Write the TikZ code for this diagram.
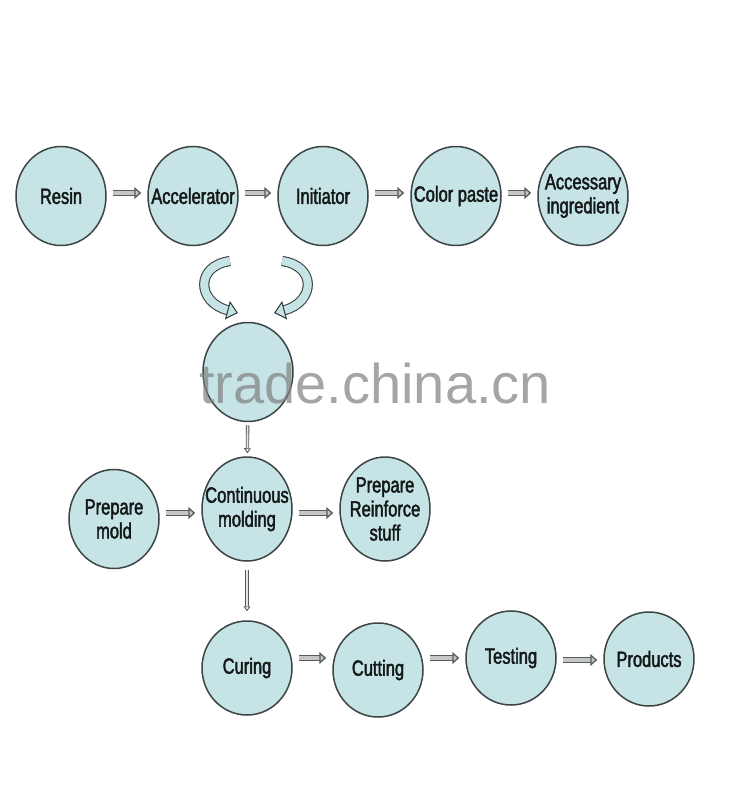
\documentclass[tikz,border=0pt]{standalone}
\usepackage{fontspec}
\setmainfont{Liberation Sans}[FakeStretch=0.75, FakeBold=2]
\newfontfamily\wmfont{Liberation Sans}
\usetikzlibrary{arrows.meta, shapes.geometric}
\definecolor{bub}{RGB}{198,228,229}
\definecolor{rim}{RGB}{60,68,68}
\definecolor{ink}{RGB}{20,24,24}
\definecolor{arr}{RGB}{85,92,92}
\tikzset{
  proc/.style={ellipse, draw=rim, line width=1.5pt, fill=bub, minimum width=90pt, minimum height=99pt, inner sep=0pt},
  txt/.style={align=center, font=\fontsize{22}{24}\selectfont, text=ink, inner sep=0pt},
  flow/.style={draw=arr, line width=1.3pt, double=gray!45, double distance=3.5pt, shorten <=6pt, shorten >=6pt,
    -{Triangle[open, length=7pt, width=12pt, line width=1.3pt, fill=gray!45]}},
  thinarrow/.style={draw=arr, line width=0.9pt, double=gray!20, double distance=1.6pt,
    -{Triangle[open, length=5pt, width=7pt, line width=0.9pt]}},
  curlarrow/.style={draw=rim, line width=1.1pt, double=bub, double distance=8pt,
    -{Triangle[open, length=11pt, width=19pt, line width=1.1pt, fill=bub]}},
}
\begin{document}
\begin{tikzpicture}[x=1pt,y=-1pt]
\useasboundingbox[fill=white] (0,0) rectangle (750,800);
% row 1
\node[proc, label={[txt]center:Resin}] (resin) at (61,196) {};
\node[proc, label={[txt]center:Accelerator}] (accel) at (193,196) {};
\node[proc, label={[txt]center:Initiator}] (init)  at (323,196) {};
\node[proc, label={[txt]center:Color paste}] (color) at (456,196) {};
\node[proc, label={[txt]center:Accessary\\ingredient}] (acces) at (583,196) {};
\coordinate (y1) at (0,193);
\draw[flow] (resin.east |- y1) -- (accel.west |- y1);
\draw[flow] (accel.east |- y1) -- (init.west |- y1);
\draw[flow] (init.east |- y1) -- (color.west |- y1);
\draw[flow] (color.east |- y1) -- (acces.west |- y1);
% curved arrows
\coordinate (l1) at (230,261);
\coordinate (l2) at (238,313);
\coordinate (r1) at (282,261);
\coordinate (r2) at (274,313);
\draw[curlarrow] (l1) .. controls (195,266) and (197,302) .. (l2);
\draw[curlarrow] (r1) .. controls (317,266) and (315,302) .. (r2);
% middle circle (label hidden)
\node[proc] (mix) at (248,372) {};
% row 3
\node[proc, label={[txt]center:Prepare\\mold}] (mold) at (114,519) {};
\node[proc, minimum height=104pt, label={[txt]center:Continuous\\molding}] (cont) at (247,509) {};
\node[proc, minimum height=104pt, label={[txt]center:Prepare\\Reinforce\\stuff}] (reinf) at (385,509) {};
\coordinate (y3) at (0,513);
\draw[thinarrow, shorten <=3pt, shorten >=3pt] (mix) -- (cont);
\draw[flow] (mold.east |- y3) -- (cont.west |- y3);
\draw[flow] (cont.east |- y3) -- (reinf.west |- y3);
% row 4
\node[proc, minimum height=94pt, label={[txt]center:Curing}] (cure) at (247,668) {};
\node[proc, minimum height=94pt, label={[txt]center:Cutting}] (cut)  at (378,670) {};
\node[proc, minimum height=94pt, label={[txt]center:Testing}] (test) at (511,658) {};
\node[proc, minimum height=94pt, label={[txt]center:Products}] (prod) at (649,659) {};
\coordinate (y4) at (0,658);
\coordinate (y5) at (0,660);
\draw[thinarrow, shorten <=8pt, shorten >=9pt] (cont) -- (cure);
\draw[flow] (cure.east |- y4) -- (cut.west |- y4);
\draw[flow] (cut.east |- y4) -- (test.west |- y4);
\draw[flow] (test.east |- y5) -- (prod.west |- y5);
% watermark
\node[font=\wmfont\fontsize{56}{60}\selectfont, text=gray, opacity=0.7] (wm) at (375,383) {trade.china.cn};
\end{tikzpicture}
\end{document}
